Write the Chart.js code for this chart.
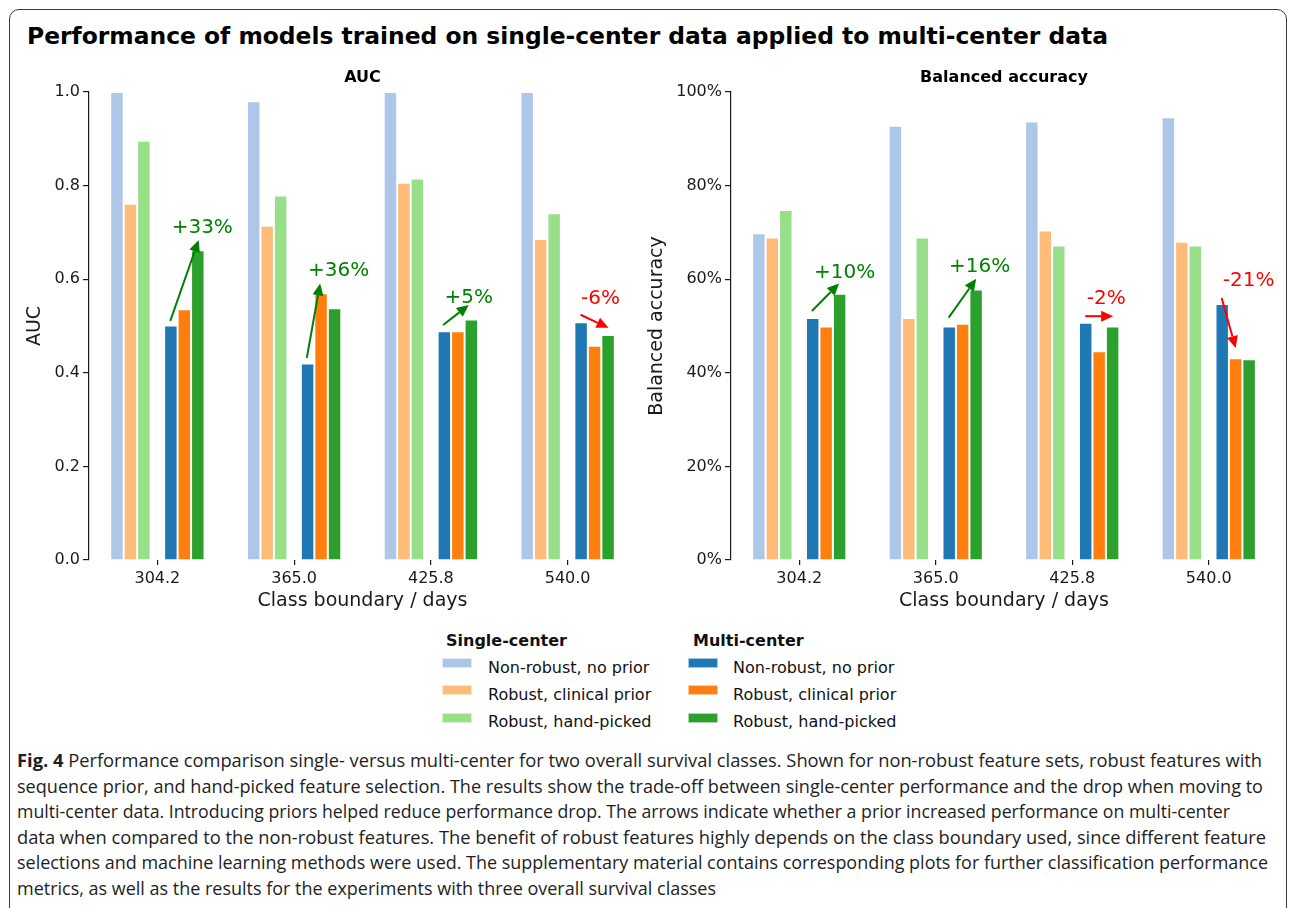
<!DOCTYPE html>
<html><head><meta charset="utf-8">
<script src="https://cdn.jsdelivr.net/npm/chart.js@4.4.1/dist/chart.umd.min.js"></script>
<style>
html,body{margin:0;padding:0;background:#fff;}
body{width:1290px;height:908px;position:relative;overflow:hidden;font-family:"DejaVu Sans",sans-serif;color:#111;}
#frame{position:absolute;left:9px;top:9px;width:1278px;height:1000px;border:1.5px solid #3a3a3a;border-radius:10px;box-sizing:border-box;}
#title{position:absolute;left:27px;top:25px;font:bold 23.4px/23.4px "DejaVu Sans";color:#000;white-space:nowrap;}
.cw{position:absolute;top:60px;width:645px;height:565px;}
#legend div{position:absolute;white-space:nowrap;}
.lh{font:bold 16px/16px "DejaVu Sans";color:#111;}
.lt{font:16px/16px "DejaVu Sans";color:#111;}
.sw{height:10px;width:30px;box-sizing:border-box;border:1px solid rgba(255,255,255,0.6);}
#caption{position:absolute;left:17px;top:748px;font:17.5px/25.6px "Open Sans",sans-serif;color:#1e1e1e;}
#caption .ln{white-space:nowrap;transform-origin:0 0;height:25.6px;width:max-content;}
#caption b{font-weight:700;}
</style></head>
<body>
<div id="frame"></div>
<div id="title">Performance of models trained on single-center data applied to multi-center data</div>
<div class="cw" style="left:0"><canvas id="c1" width="645" height="565"></canvas></div>
<div class="cw" style="left:645px"><canvas id="c2" width="645" height="565"></canvas></div>
<div id="legend"></div>
<div id="caption"></div>
<script>
// ---------- data ----------
const categories = ['304.2', '365.0', '425.8', '540.0'];
const seriesLabels = ['Non-robust, no prior', 'Robust, clinical prior', 'Robust, hand-picked'];
const groupLabels = ['Single-center', 'Multi-center'];

const aucSingleNonRobust = [1.000, 0.980, 1.000, 1.000];
const aucSingleClinical  = [0.761, 0.714, 0.806, 0.686];
const aucSingleHand      = [0.896, 0.779, 0.815, 0.741];
const aucMultiNonRobust  = [0.501, 0.420, 0.489, 0.508];
const aucMultiClinical   = [0.536, 0.570, 0.489, 0.458];
const aucMultiHand       = [0.662, 0.538, 0.514, 0.481];

const baSingleNonRobust = [69.8, 92.8, 93.7, 94.6];
const baSingleClinical  = [68.9, 51.7, 70.4, 68.0];
const baSingleHand      = [74.8, 68.9, 67.2, 67.2];
const baMultiNonRobust  = [51.7, 49.9, 50.7, 54.7];
const baMultiClinical   = [49.9, 50.5, 44.6, 43.1];
const baMultiHand       = [56.9, 57.8, 49.9, 42.9];

const aucTicks = [0, 0.2, 0.4, 0.6, 0.8, 1.0];
const baTicks  = [0, 20, 40, 60, 80, 100];

const aucChanges = ['+33%', '+36%', '+5%', '-6%'];
const baChanges  = ['+10%', '+16%', '-2%', '-21%'];

// annotation anchors: [bar slot (0..6), value]
const aucArrowFrom = [[3.96, 0.511], [3.94, 0.432], [3.91, 0.502], [3.96, 0.524]];
const aucArrowTo   = [[6.06, 0.684], [4.93, 0.591], [5.81, 0.545], [6.04, 0.496]];
const aucTextAt    = [[6.33, 0.709], [6.30, 0.618], [5.81, 0.560], [5.44, 0.558]];
const baArrowFrom  = [[3.94, 53.2], [3.96, 51.8], [3.96, 52.1], [3.96, 56.0]];
const baArrowTo    = [[5.96, 59.1], [6.01, 60.1], [6.04, 52.1], [5.00, 45.3]];
const baTextAt     = [[6.37, 61.4], [6.26, 62.7], [5.52, 55.8], [5.96, 59.7]];

const captionLines = [
  'Performance comparison single- versus multi-center for two overall survival classes. Shown for non-robust feature sets, robust features with',
  'sequence prior, and hand-picked feature selection. The results show the trade-off between single-center performance and the drop when moving to',
  'multi-center data. Introducing priors helped reduce performance drop. The arrows indicate whether a prior increased performance on multi-center',
  'data when compared to the non-robust features. The benefit of robust features highly depends on the class boundary used, since different feature',
  'selections and machine learning methods were used. The supplementary material contains corresponding plots for further classification performance',
  'metrics, as well as the results for the experiments with three overall survival classes'
];
const captionLineWidths = [1245, 1246, 1213, 1249, 1251, 699];

// ---------- styles ----------
const singleColors = ['#aec7e8', '#ffbb78', '#98df8a'];
const multiColors  = ['#1f77b4', '#ff7f0e', '#2ca02c'];
const INK = '#1a1a1a';
Chart.defaults.font.family = 'DejaVu Sans';
Chart.defaults.color = INK;

function buildDatasets(single, multi) {
  const ds = [];
  single.forEach((d, i) => ds.push({label: seriesLabels[i], data: d, backgroundColor: singleColors[i]}));
  ds.push({label: '', data: categories.map(() => null), backgroundColor: 'rgba(0,0,0,0)'});
  multi.forEach((d, i) => ds.push({label: seriesLabels[i], data: d, backgroundColor: multiColors[i]}));
  return ds.map(d => Object.assign(d, {borderColor: '#ffffff', borderWidth: 1, barPercentage: 1, categoryPercentage: 0.69}));
}

const arrowPlugin = {
  id: 'arrows',
  afterDatasetsDraw(chart, args, opts) {
    const ctx = chart.ctx, ys = chart.scales.y;
    const m0 = chart.getDatasetMeta(0), m1 = chart.getDatasetMeta(1);
    opts.labels.forEach((label, cat) => {
      const x0 = m0.data[cat].x, sw = m1.data[cat].x - x0;
      const px = s => x0 + s * sw;
      const color = label.startsWith('+') ? '#008000' : '#ff0000';
      const f = opts.from[cat], t = opts.to[cat], tx = opts.text[cat];
      const x1 = px(f[0]), y1 = ys.getPixelForValue(f[1]);
      const x2 = px(t[0]), y2 = ys.getPixelForValue(t[1]);
      const ang = Math.atan2(y2 - y1, x2 - x1), hl = 12, hw = 5.5;
      const bx = x2 - hl * Math.cos(ang), by = y2 - hl * Math.sin(ang);
      ctx.save();
      ctx.strokeStyle = color; ctx.fillStyle = color; ctx.lineWidth = 2;
      ctx.beginPath(); ctx.moveTo(x1, y1); ctx.lineTo(bx, by); ctx.stroke();
      ctx.beginPath(); ctx.moveTo(x2, y2);
      ctx.lineTo(bx + hw * Math.sin(ang), by - hw * Math.cos(ang));
      ctx.lineTo(bx - hw * Math.sin(ang), by + hw * Math.cos(ang));
      ctx.closePath(); ctx.fill();
      ctx.font = '20px "DejaVu Sans"'; ctx.textAlign = 'center'; ctx.textBaseline = 'middle';
      ctx.fillText(label, px(tx[0]), ys.getPixelForValue(tx[1]));
      ctx.restore();
    });
  }
};

const subtitlePlugin = {
  id: 'subtitleText',
  afterDraw(chart, args, opts) {
    const ctx = chart.ctx, a = chart.chartArea;
    ctx.save();
    ctx.font = 'bold 16px "DejaVu Sans"'; ctx.fillStyle = '#000';
    ctx.textAlign = 'center'; ctx.textBaseline = 'middle';
    ctx.fillText(opts.text, (a.left + a.right) / 2, 17.5);
    ctx.restore();
  }
};

function makeChart(id, cfg) {
  return new Chart(document.getElementById(id), {
    type: 'bar',
    data: {labels: categories, datasets: buildDatasets(cfg.single, cfg.multi)},
    plugins: [arrowPlugin, subtitlePlugin],
    options: {
      responsive: false, animation: false, devicePixelRatio: 1,
      layout: {padding: {left: 0, top: 32, right: cfg.padRight, bottom: 0}},
      plugins: {
        legend: {display: false}, tooltip: {enabled: false}, title: {display: false},
        arrows: {labels: cfg.changes, from: cfg.from, to: cfg.to, text: cfg.textAt},
        subtitleText: {text: cfg.subtitle}
      },
      scales: {
        x: {
          afterFit: s => { s.height = 65; },
          border: {display: false},
          grid: {display: true, drawOnChartArea: false, drawTicks: true, tickLength: 5, offset: false, color: INK, lineWidth: 1.2},
          ticks: {font: {size: 16}, color: INK, padding: 4, maxRotation: 0},
          title: {display: true, text: 'Class boundary / days', font: {size: 19}, color: INK, padding: {top: 0, bottom: 13}}
        },
        y: {
          min: 0, max: cfg.max,
          afterBuildTicks: s => { s.ticks = cfg.ticks.map(v => ({value: v})); },
          afterFit: s => { s.width = cfg.yWidth; },
          border: {display: true, color: INK, width: 1.2},
          grid: {display: true, drawOnChartArea: false, drawTicks: true, tickLength: 6, color: INK, lineWidth: 1.2},
          ticks: {font: {size: 16}, color: INK, padding: 3, callback: cfg.fmt},
          title: {display: true, text: cfg.yTitle, font: {size: 19}, color: INK, padding: {top: cfg.yTitlePad, bottom: 0}}
        }
      }
    }
  });
}

makeChart('c1', {
  single: [aucSingleNonRobust, aucSingleClinical, aucSingleHand],
  multi: [aucMultiNonRobust, aucMultiClinical, aucMultiHand],
  ticks: aucTicks, max: 1, fmt: v => Number(v).toFixed(1),
  yTitle: 'AUC', yTitlePad: 24, yWidth: 89, padRight: 9, subtitle: 'AUC',
  changes: aucChanges, from: aucArrowFrom, to: aucArrowTo, textAt: aucTextAt
});
makeChart('c2', {
  single: [baSingleNonRobust, baSingleClinical, baSingleHand],
  multi: [baMultiNonRobust, baMultiClinical, baMultiHand],
  ticks: baTicks, max: 100, fmt: v => Math.round(v) + '%',
  yTitle: 'Balanced accuracy', yTitlePad: 1, yWidth: 86, padRight: 13, subtitle: 'Balanced accuracy',
  changes: baChanges, from: baArrowFrom, to: baArrowTo, textAt: baTextAt
});

// ---------- legend (HTML) ----------
(function () {
  const lg = document.getElementById('legend');
  const cols = [{hx: 446, sx: 442, tx: 488, colors: singleColors}, {hx: 693, sx: 688, tx: 733, colors: multiColors}];
  const textTops = [660, 687, 714];
  const swTops = [657.5, 685, 712.5];
  cols.forEach((c, ci) => {
    const h = document.createElement('div');
    h.className = 'lh'; h.textContent = groupLabels[ci];
    h.style.left = c.hx + 'px'; h.style.top = '632.5px';
    lg.appendChild(h);
    seriesLabels.forEach((lab, i) => {
      const s = document.createElement('div');
      s.className = 'sw'; s.style.background = c.colors[i];
      s.style.left = c.sx + 'px'; s.style.top = swTops[i] + 'px';
      lg.appendChild(s);
      const t = document.createElement('div');
      t.className = 'lt'; t.textContent = lab;
      t.style.left = c.tx + 'px'; t.style.top = textTops[i] + 'px';
      lg.appendChild(t);
    });
  });
})();

// ---------- caption ----------
(function () {
  const cap = document.getElementById('caption');
  captionLines.forEach((line, i) => {
    const d = document.createElement('div');
    d.className = 'ln';
    if (i === 0) {
      const b = document.createElement('b'); b.textContent = 'Fig. 4';
      d.appendChild(b); d.appendChild(document.createTextNode(' ' + line));
    } else d.textContent = line;
    cap.appendChild(d);
  });
  cap.querySelectorAll('.ln').forEach((d, i) => {
    const w = d.getBoundingClientRect().width;
    d.style.transform = 'scaleX(' + (captionLineWidths[i] / w) + ')';
  });
})();
</script>
</body></html>
